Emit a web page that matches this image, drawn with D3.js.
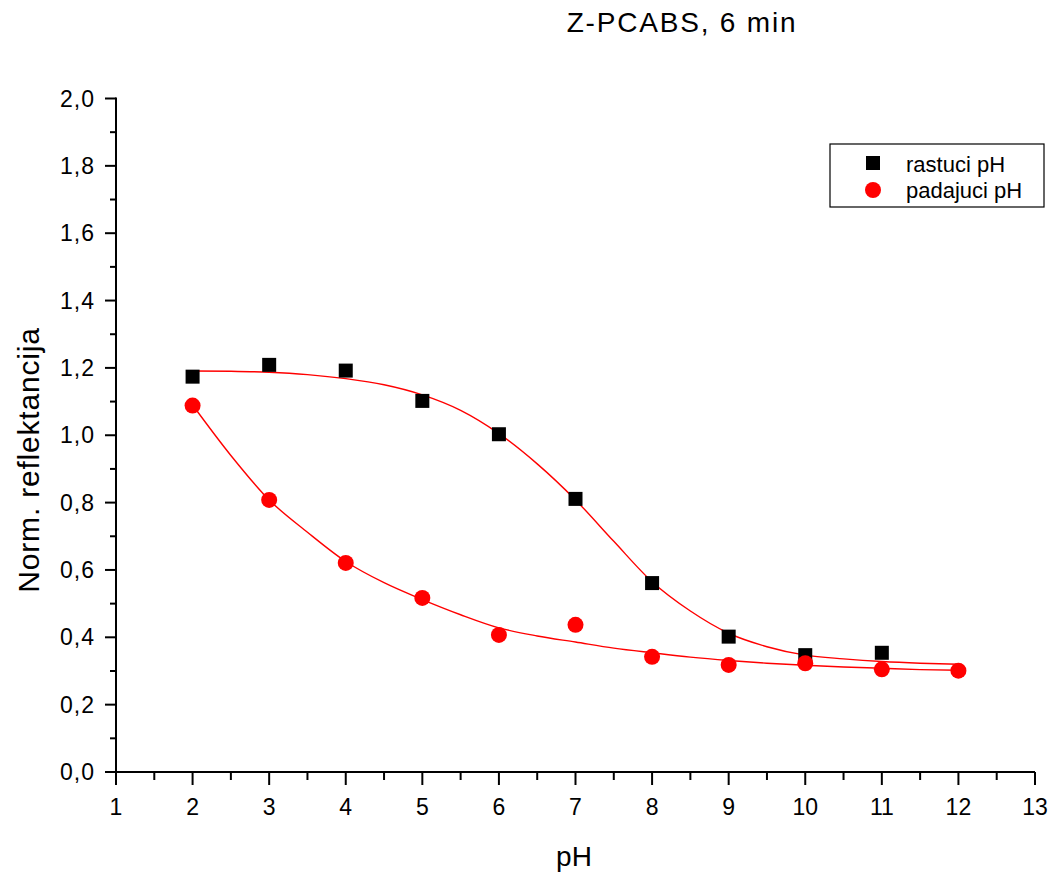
<!DOCTYPE html>
<html><head><meta charset="utf-8">
<script src="https://cdn.jsdelivr.net/npm/d3@7"></script>
<style>body{margin:0;background:#fff}svg{display:block}text{font-family:"Liberation Sans",Arial,sans-serif;fill:#000}</style>
</head><body>
<script>
const pH = [2,3,4,5,6,7,8,9,10,11,12];
const rastuci = [1.174,1.209,1.192,1.102,1.003,0.811,0.561,0.402,0.347,0.354,null];
const padajuci = [1.088,0.808,0.621,0.517,0.407,0.437,0.342,0.318,0.323,0.305,0.301];
const fitX = [2,2.5,3,3.5,4,4.5,5,5.5,6,6.5,7,7.5,8,8.5,9,9.5,10,10.5,11,11.5,12];
const fitRastuci = [1.191,1.190,1.187,1.180,1.168,1.150,1.120,1.074,1.005,0.915,0.808,0.685,0.565,0.478,0.412,0.372,0.347,0.336,0.328,0.323,0.320];
const fitPadajuci = [1.090,0.940,0.808,0.712,0.625,0.562,0.512,0.467,0.428,0.404,0.386,0.368,0.354,0.341,0.331,0.323,0.317,0.312,0.308,0.304,0.302];
const xTicks = [1,2,3,4,5,6,7,8,9,10,11,12,13];
const yTicks = [0,0.2,0.4,0.6,0.8,1.0,1.2,1.4,1.6,1.8,2.0];
const title = "Z-PCABS, 6 min";
const xLabel = "pH", yLabel = "Norm. reflektancija";
const legendLabels = ["rastuci pH","padajuci pH"];

const W=1051,H=872;
const svg=d3.select("body").append("svg").attr("width",W).attr("height",H);
const x=d3.scaleLinear().domain([1,13]).range([116,1035]);
const y=d3.scaleLinear().domain([0,2]).range([772,98.5]);
const fmt=d=>d3.format(".1f")(d).replace(".",",");

const xMinor=d3.range(1.5,13,1);
const yMinor=d3.range(0.1,2,0.2);
const ax=svg.append("g").attr("stroke","#000").attr("stroke-width",2);
ax.selectAll(".xm").data(xTicks).join("line").attr("x1",d=>x(d)).attr("x2",d=>x(d)).attr("y1",772).attr("y2",785);
ax.selectAll(".xn").data(xMinor).join("line").attr("x1",d=>x(d)).attr("x2",d=>x(d)).attr("y1",772).attr("y2",780);
ax.selectAll(".ym").data(yTicks).join("line").attr("y1",d=>y(d)).attr("y2",d=>y(d)).attr("x1",105).attr("x2",116);
ax.selectAll(".yn").data(yMinor).join("line").attr("y1",d=>y(d)).attr("y2",d=>y(d)).attr("x1",110).attr("x2",116);
ax.append("line").attr("x1",116).attr("x2",1035).attr("y1",772).attr("y2",772);
ax.append("line").attr("x1",116).attr("x2",116).attr("y1",97.5).attr("y2",773);

svg.selectAll(".xl").data(xTicks).join("text").attr("x",d=>x(d)).attr("y",815)
  .attr("text-anchor","middle").attr("font-size",23).text(d=>d);
svg.selectAll(".yl").data(yTicks).join("text").attr("x",95).attr("y",d=>y(d)+8)
  .attr("text-anchor","end").attr("font-size",23).attr("letter-spacing",1).text(fmt);

svg.append("text").attr("x",682).attr("y",32).attr("text-anchor","middle").attr("font-size",28).attr("letter-spacing",1.8).text(title);
svg.append("text").attr("x",574).attr("y",866).attr("text-anchor","middle").attr("font-size",28).text(xLabel);
svg.append("text").attr("transform","translate(39,460) rotate(-90)").attr("text-anchor","middle").attr("font-size",30).attr("letter-spacing",0.8).text(yLabel);

const line=d3.line().x(d=>x(d[0])).y(d=>y(d[1])).curve(d3.curveMonotoneX);
svg.append("path").datum(fitX.map((v,i)=>[v,fitRastuci[i]])).attr("d",line).attr("fill","none").attr("stroke","#ff0000").attr("stroke-width",1.4);
svg.append("path").datum(fitX.map((v,i)=>[v,fitPadajuci[i]])).attr("d",line).attr("fill","none").attr("stroke","#ff0000").attr("stroke-width",1.4);

const s=14;
svg.selectAll(".sq").data(pH.map((v,i)=>[v,rastuci[i]]).filter(d=>d[1]!=null)).join("rect")
  .attr("x",d=>x(d[0])-s/2).attr("y",d=>y(d[1])-s/2).attr("width",s).attr("height",s).attr("fill","#000");
svg.selectAll(".ci").data(pH.map((v,i)=>[v,padajuci[i]])).join("circle")
  .attr("cx",d=>x(d[0])).attr("cy",d=>y(d[1])).attr("r",8).attr("fill","#ff0000");

const lg=svg.append("g");
lg.append("rect").attr("x",830).attr("y",144).attr("width",214).attr("height",63).attr("fill","#fff").attr("stroke","#000").attr("stroke-width",1.2);
lg.append("rect").attr("x",873-7).attr("y",163-7).attr("width",14).attr("height",14).attr("fill","#000");
lg.append("circle").attr("cx",873).attr("cy",190).attr("r",8).attr("fill","#ff0000");
lg.append("text").attr("x",906).attr("y",172).attr("font-size",22).text(legendLabels[0]);
lg.append("text").attr("x",906).attr("y",198).attr("font-size",22).text(legendLabels[1]);
</script>
</body></html>
